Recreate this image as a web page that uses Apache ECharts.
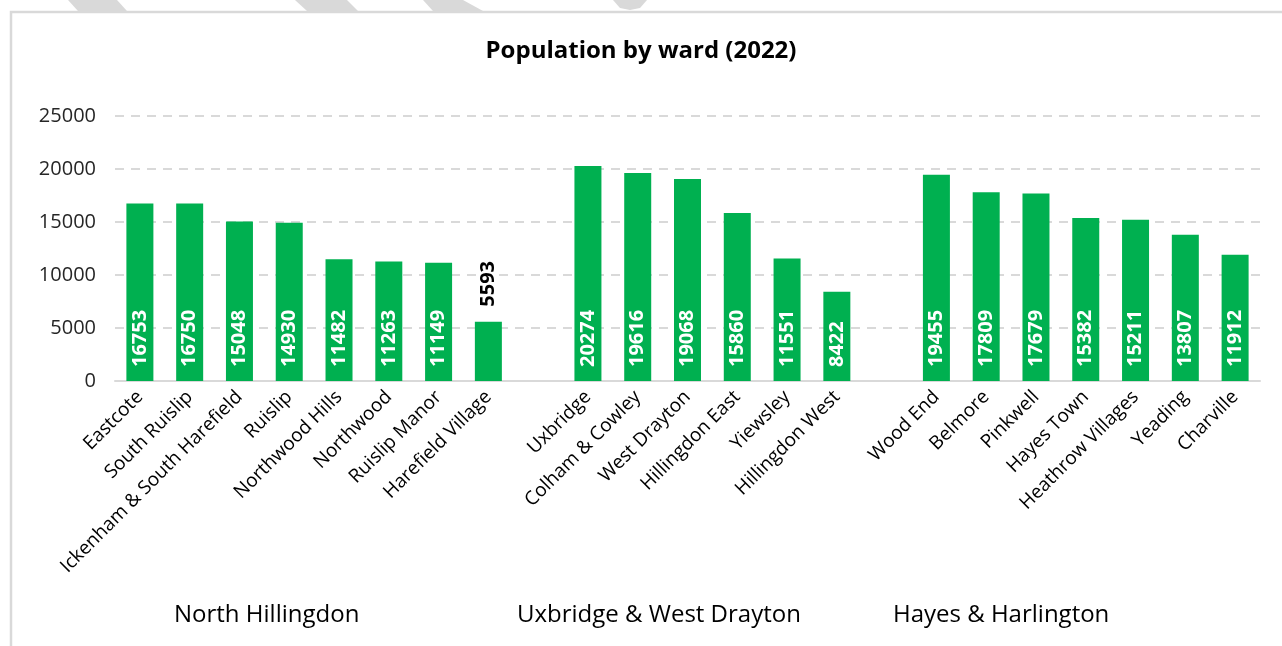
<!DOCTYPE html>
<html>
<head>
<meta charset="utf-8">
<script src="https://cdn.jsdelivr.net/npm/echarts@6/dist/echarts.min.js"></script>
<style>
html,body{margin:0;padding:0;background:#fff;}
#chart{width:1282px;height:646px;}
</style>
</head>
<body>
<div id="chart"></div>
<script>
// ---- data ----
const groupNames = ['North Hillingdon', 'Uxbridge & West Drayton', 'Hayes & Harlington'];
const northWards = ['Eastcote', 'South Ruislip', 'Ickenham & South Harefield', 'Ruislip', 'Northwood Hills', 'Northwood', 'Ruislip Manor', 'Harefield Village'];
const northValues = [16753, 16750, 15048, 14930, 11482, 11263, 11149, 5593];
const uxWards = ['Uxbridge', 'Colham & Cowley', 'West Drayton', 'Hillingdon East', 'Yiewsley', 'Hillingdon West'];
const uxValues = [20274, 19616, 19068, 15860, 11551, 8422];
const hayesWards = ['Wood End', 'Belmore', 'Pinkwell', 'Hayes Town', 'Heathrow Villages', 'Yeading', 'Charville'];
const hayesValues = [19455, 17809, 17679, 15382, 15211, 13807, 11912];
const yTicks = [0, 5000, 10000, 15000, 20000, 25000];

// build category list with an empty slot between groups
const wardGroups = [[northWards, northValues], [uxWards, uxValues], [hayesWards, hayesValues]];
const categories = [];
const values = [];
wardGroups.forEach(([w, v], gi) => {
  if (gi > 0) { categories.push(''); values.push('-'); }
  w.forEach((name, i) => { categories.push(name); values.push(v[i]); });
});

const FONT = '"Open Sans", "Noto Sans", sans-serif';

const seriesData = values.map((v) => {
  if (v === '-') return '-';
  if (v < 8000) {
    return {
      value: v,
      label: {
        position: 'top', rotate: 90, align: 'left', verticalAlign: 'middle',
        distance: 15, color: '#000', fontWeight: 'bold'
      }
    };
  }
  return v;
});

const chart = echarts.init(document.getElementById('chart'), null, {renderer: 'canvas'});

function stripe(points) {
  return { type: 'polygon', shape: { points: points }, style: { fill: '#d9d9d9' }, silent: true, z: -1 };
}

chart.setOption({
  backgroundColor: '#fff',
  animation: false,
  title: {
    text: 'Population by ward (2022)',
    left: 'center', top: 34,
    textStyle: { fontFamily: FONT, fontSize: 24, fontWeight: 'bold', color: '#000' }
  },
  grid: { left: 115, right: 22, top: 116, bottom: 265, containLabel: false },
  xAxis: {
    type: 'category',
    data: categories,
    axisLine: { show: true, lineStyle: { color: '#d9d9d9', width: 2 } },
    axisTick: { show: false },
    axisLabel: {
      interval: 0, rotate: 45, margin: 13,
      fontFamily: FONT, fontSize: 19, color: '#000'
    }
  },
  yAxis: {
    type: 'value',
    min: yTicks[0], max: yTicks[yTicks.length - 1], interval: yTicks[1] - yTicks[0],
    axisLine: { show: false },
    axisTick: { show: false },
    axisLabel: { fontFamily: FONT, fontSize: 20, color: '#262626', margin: 19, formatter: (v) => String(v) },
    splitLine: { lineStyle: { color: '#d9d9d9', width: 2, type: [9, 7] } }
  },
  series: [{
    type: 'bar',
    data: seriesData,
    barWidth: 27,
    itemStyle: { color: '#00B050' },
    label: {
      show: true,
      position: 'insideBottom', rotate: 90, align: 'left', verticalAlign: 'middle',
      distance: 14,
      color: '#fff', fontFamily: FONT, fontSize: 20, fontWeight: 'bold'
    }
  }],
  graphic: [
    stripe([[68,0],[117,0],[127,11],[78,11]]),
    stripe([[295,0],[347,0],[358,11],[307,11]]),
    stripe([[423,0],[463,0],[483,11],[433,11]]),
    stripe([[613,0],[647,0],[640,8],[630,10],[620,8]]),
    { type: 'polyline', shape: { points: [[11,700],[11,12],[1290,12]] },
      style: { stroke: '#d9d9d9', lineWidth: 2.5, fill: null }, silent: true },
    { type: 'text', left: 174, top: 603, style: { text: groupNames[0], font: '24px ' + FONT, fill: '#000' } },
    { type: 'text', left: 517, top: 603, style: { text: groupNames[1], font: '24px ' + FONT, fill: '#000' } },
    { type: 'text', left: 893, top: 603, style: { text: groupNames[2], font: '24px ' + FONT, fill: '#000' } }
  ]
});
</script>
</body>
</html>
